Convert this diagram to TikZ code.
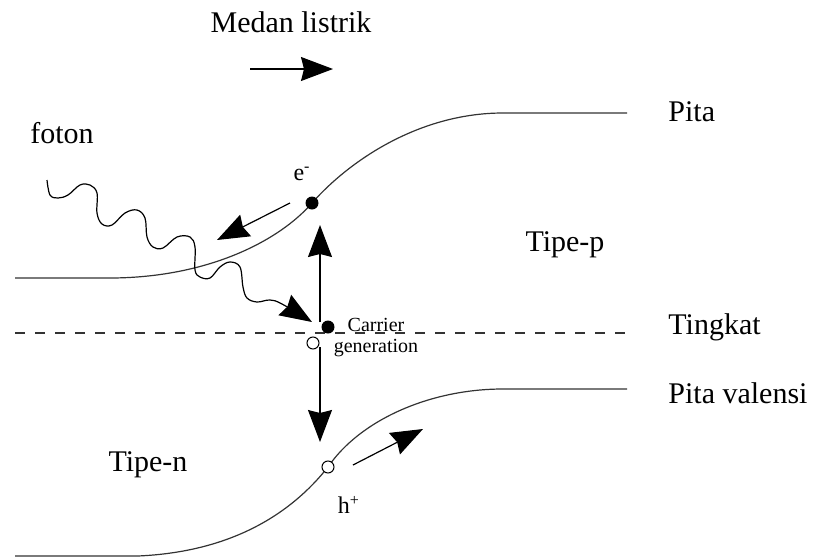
\documentclass[tikz,border=0pt]{standalone}
\usepackage{fontspec}
\setmainfont{Liberation Serif}
\usepackage{tikz}
\usetikzlibrary{positioning,arrows.meta,calc}

\begin{document}
\begin{tikzpicture}[
    x=0.5pt, y=-0.5pt,
    every node/.style={font=\fontsize{15}{18}\selectfont, inner sep=0pt},
    band/.style={line width=0.6pt, black!80},
    level/.style={line width=0.6pt, black!80, dash pattern=on 5pt off 5pt},
    bigarrow/.style={-{Stealth[length=16pt, width=12pt, inset=1.5pt]}, line width=0.6pt},
    photon/.style={line width=0.6pt, -{Stealth[length=16pt, width=12pt, inset=1.5pt]}},
    electron/.style={circle, fill=black, minimum size=6.5pt},
    hole/.style={circle, draw, fill=white, line width=0.5pt, minimum size=6pt},
    small/.style={font=\fontsize{10}{10.5}\selectfont, align=center},
    charge/.style={font=\fontsize{12}{14}\selectfont}
]
    \useasboundingbox (0,0) rectangle (816,558);

    % Medan listrik
    \node (medan) at (291,22) {Medan listrik};
    \coordinate (m0) at (250,69);
    \coordinate (m1) at (333,69);
    \draw[bigarrow] (m0) -- (m1);

    % Pita konduksi
    \draw[band] (15,278) -- (113,278)
        .. controls (210,277) and (280,240) .. (312,203)
        .. controls (350,160) and (420,113) .. (503,113) -- (627,113);

    % Tingkat (garis putus-putus)
    \draw[level] (15,333) -- (627,333);

    % Pita valensi
    \draw[band] (15,556) -- (138,556)
        .. controls (230,552) and (290,515) .. (328,467)
        .. controls (360,420) and (430,389) .. (503,389) -- (627,389);

    % Label kanan
    \node[anchor=west] (pita) at (668,112) {Pita};
    \node[anchor=west] (tingkat) at (668,327) {Tingkat};
    \node[anchor=west] (valensi) at (668,393) {Pita valensi};
    \node (tipep) at (565,245) {Tipe-p};
    \node (tipen) at (148,465) {Tipe-n};
    \node (foton) at (62,133) {foton};

    % Muatan
    \node[electron] (e) at (312,203) {};
    \node[charge] (elab) at (302,174) {e\textsuperscript{-}};
    \node[hole] (h) at (328,467) {};
    \node[charge] (hlab) at (349,505) {h\textsuperscript{+}};
    \node[electron] (ge) at (328,327) {};
    \node[hole] (gh) at (313,343) {};
    \node[small] (carrier) at (376,338) {Carrier\\generation};

    % Panah
    \coordinate (e0) at (290,203);
    \coordinate (e1) at (217,240);
    \draw[bigarrow] (e0) -- (e1);
    \coordinate (u0) at (320,322);
    \coordinate (u1) at (320,225);
    \draw[bigarrow] (u0) -- (u1);
    \coordinate (d0) at (320,347);
    \coordinate (d1) at (320,442);
    \draw[bigarrow] (d0) -- (d1);
    \coordinate (h0) at (353,465);
    \coordinate (h1) at (423,429);
    \draw[bigarrow] (h0) -- (h1);

    % Foton
    \draw[photon] plot[smooth, tension=0.6] coordinates {
        (47,180) (50,195) (58,198) (68,195) (80,185) (90,185) (97,193)
        (97,213) (102,224) (112,225) (125,213) (137,210) (145,218)
        (147,237) (153,247) (163,248) (177,237) (190,237) (195,247)
        (195,270) (200,277) (210,278) (220,267) (230,262) (240,267)
        (243,287) (247,298) (257,302) (270,300) (282,304) (312,322)};

\end{tikzpicture}
\end{document}
